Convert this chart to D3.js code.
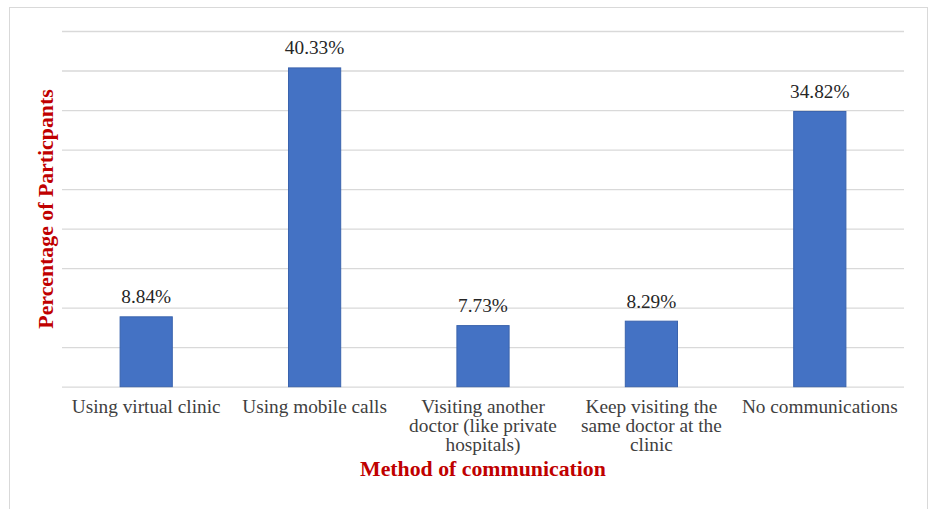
<!DOCTYPE html>
<html>
<head>
<meta charset="utf-8">
<script src="https://cdn.jsdelivr.net/npm/d3@7"></script>
<style>
  html, body { margin: 0; padding: 0; background: #fff; }
  svg { display: block; }
</style>
</head>
<body>
<svg id="chart" width="929" height="509"></svg>
<script>
// Share of participants by method of communication
const categories = [
  ["Using virtual clinic"],
  ["Using mobile calls"],
  ["Visiting another", "doctor (like private", "hospitals)"],
  ["Keep visiting the", "same doctor at the", "clinic"],
  ["No communications"]
];
const values = [8.84, 40.33, 7.73, 8.29, 34.82];
const valueLabels = ["8.84%", "40.33%", "7.73%", "8.29%", "34.82%"];
const gridTicks = [0, 5, 10, 15, 20, 25, 30, 35, 40, 45];

const svg = d3.select("#chart");
const W = 929;
const margin = { left: 62, right: 25, top: 31 };
const plotW = W - margin.left - margin.right;
const baseY = 386.7;

const serif = "'Liberation Serif', 'Times New Roman', serif";

// outer chart frame
svg.append("rect")
  .attr("x", 9.5).attr("y", 7.5)
  .attr("width", 918).attr("height", 520)
  .attr("fill", "#fff").attr("stroke", "#d9d9d9").attr("stroke-width", 1);

const x = d3.scaleBand()
  .domain(d3.range(categories.length))
  .range([margin.left, margin.left + plotW])
  .paddingInner(0.69)
  .paddingOuter(0.345);

const y = d3.scaleLinear()
  .domain([0, 45])
  .range([baseY, margin.top]);

// horizontal gridlines
const grid = svg.append("g")
  .attr("transform", `translate(${margin.left},0)`)
  .call(d3.axisLeft(y).tickValues(gridTicks).tickSize(-plotW).tickFormat(""));
grid.select(".domain").remove();
grid.selectAll(".tick line")
  .attr("stroke", "#d9d9d9").attr("stroke-width", 1.3);

// bars
svg.append("g").selectAll("rect")
  .data(values)
  .join("rect")
  .attr("x", (d, i) => x(i))
  .attr("width", x.bandwidth())
  .attr("y", d => y(d))
  .attr("height", d => baseY - y(d))
  .attr("fill", "#4472c4")
  .attr("stroke", "#3a63ad")
  .attr("stroke-width", 1);

// value labels
svg.append("g").selectAll("text")
  .data(values)
  .join("text")
  .attr("x", (d, i) => x(i) + x.bandwidth() / 2)
  .attr("y", d => y(d) - 13.5)
  .attr("text-anchor", "middle")
  .attr("font-family", serif)
  .attr("font-size", 19.3)
  .attr("fill", "#262626")
  .text((d, i) => valueLabels[i]);

// category axis labels (multi-line)
const catG = svg.append("g");
categories.forEach((lines, i) => {
  const cx = x(i) + x.bandwidth() / 2;
  const t = catG.append("text")
    .attr("x", cx)
    .attr("y", 412.7)
    .attr("text-anchor", "middle")
    .attr("font-family", serif)
    .attr("font-size", 19.3)
    .attr("fill", "#404040");
  lines.forEach((ln, j) => {
    t.append("tspan")
      .attr("x", cx)
      .attr("dy", j === 0 ? 0 : 19.2)
      .text(ln);
  });
});

// axis titles
svg.append("text")
  .attr("x", margin.left + plotW / 2)
  .attr("y", 476)
  .attr("text-anchor", "middle")
  .attr("font-family", serif)
  .attr("font-weight", "bold")
  .attr("font-size", 21.8)
  .attr("fill", "#c00000")
  .text("Method of communication");

svg.append("text")
  .attr("transform", `translate(52.5,${(90 + 328) / 2}) rotate(-90)`)
  .attr("text-anchor", "middle")
  .attr("font-family", serif)
  .attr("font-weight", "bold")
  .attr("font-size", 21.8)
  .attr("fill", "#c00000")
  .text("Percentage of Particpants");
</script>
</body>
</html>
